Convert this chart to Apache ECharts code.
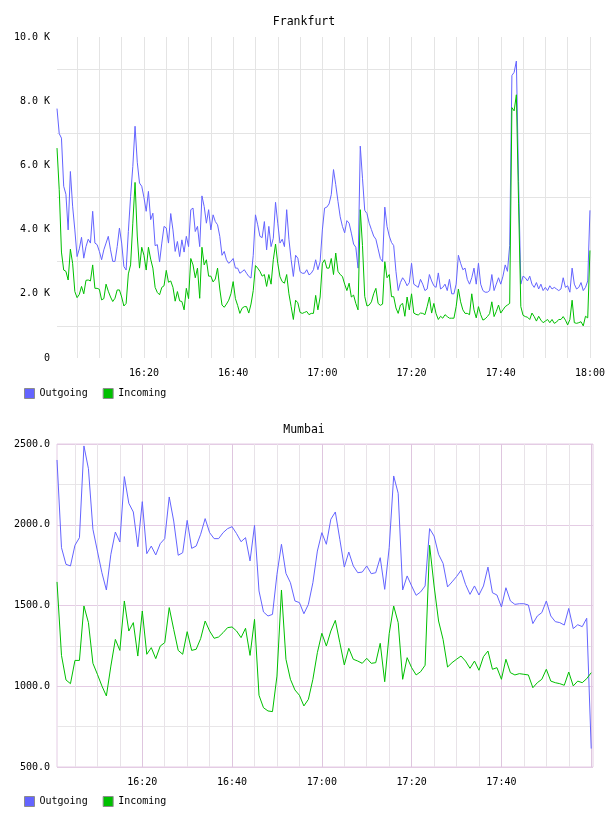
<!DOCTYPE html>
<html>
<head>
<meta charset="utf-8">
<script src="https://cdn.jsdelivr.net/npm/echarts@6/dist/echarts.min.js"></script>
<style>
  html, body { margin: 0; padding: 0; background: #fff; }
  #chart { width: 608px; height: 816px; }
</style>
</head>
<body>
<div id="chart"></div>
<script>
// Frankfurt: one sample every 30 s, first one at 16:00:30 (x in minutes after 16:00)
var frankfurtStart = 0.5, frankfurtStep = 0.5;
var frankfurtOut = [
  7770,6990,6850,5350,5100,3990,5810,4730,3990,3160,
  3400,3760,3110,3470,3700,3580,4570,3580,3530,3320,
  3060,3370,3580,3790,3370,3010,3010,3470,4050,3580,
  2850,2740,3940,5030,5970,7220,6100,5450,5350,5000,
  4570,5190,4310,4510,3500,3530,2990,3580,4100,4050,
  3580,4500,3990,3320,3630,3160,3680,3300,3790,3470,
  4620,4670,3940,4100,3470,5050,4720,4200,4620,3990,
  4460,4250,4150,3790,3200,3320,3060,2950,3010,3100,
  2800,2800,2640,2690,2750,2640,2540,2490,3200,4460,
  4150,3790,3750,4250,3370,4100,3470,3730,4850,4200,
  3580,3700,3470,4620,3700,3060,2540,3200,3110,2690,
  2640,2640,2750,2590,2640,2750,3060,2750,3000,3990,
  4670,4700,4800,5090,5870,5400,4880,4400,4100,3900,
  4280,4200,3890,3550,3450,2800,6600,5600,4600,4500,
  4200,4000,3800,3700,3400,3100,3000,4700,4100,3800,
  3600,3500,2700,2100,2350,2500,2400,2250,2350,2950,
  2300,2250,2200,2450,2300,2100,2150,2600,2400,2250,
  2200,2650,2150,2200,2300,2100,2450,2000,2000,2300,
  3200,2950,2750,2800,2450,2300,2500,2800,2300,2950,
  2300,2100,2050,2050,2100,2600,2100,2300,2500,2300,
  2550,2900,2700,3500,8800,8900,9250,5500,2300,2550,
  2500,2400,2550,2300,2200,2350,2150,2300,2100,2200,
  2100,2250,2150,2200,2150,2100,2150,2500,2200,2250,
  2050,2800,2300,2150,2200,2350,2100,2200,2400,4600
];
var frankfurtIn = [
  6540,5240,3300,2740,2700,2430,3390,2950,2070,1880,
  1980,2230,2000,2420,2430,2400,2900,2170,2170,2140,
  1810,1850,2300,2080,1900,1760,1860,2120,2120,1900,
  1620,1700,2620,2900,4200,5470,3800,2800,3450,3200,
  2740,3450,3080,2800,2200,2040,1970,2200,2250,2730,
  2360,2400,2200,1770,2070,1780,1760,1500,2170,1850,
  3100,2900,2500,2800,1860,3450,2900,3060,2550,2550,
  2370,2460,2800,2150,1650,1580,1680,1800,2000,2380,
  1850,1640,1390,1550,1600,1600,1400,1680,2100,2880,
  2800,2700,2550,2600,2230,2600,2300,3060,3550,2950,
  2530,2380,2330,2600,2000,1600,1200,1800,1720,1420,
  1390,1420,1450,1350,1390,1390,1950,1500,1900,2950,
  3060,2800,2800,3100,2600,3270,2700,2600,2540,2300,
  2100,2330,1900,1960,1700,1500,4620,3500,1920,1620,
  1650,1750,2000,2170,1700,1640,1680,3000,2500,2600,
  1910,1910,1560,1390,1650,1700,1300,1900,1500,2000,
  1400,1360,1340,1400,1390,1350,1600,1900,1400,1700,
  1380,1200,1300,1240,1350,1290,1240,1240,1240,1600,
  2150,1750,1500,1390,1390,1350,2000,1500,1250,1600,
  1350,1180,1220,1290,1380,1750,1290,1450,1650,1400,
  1500,1600,1650,1700,7800,7700,8200,4800,1600,1330,
  1290,1270,1200,1400,1290,1150,1300,1180,1100,1150,
  1200,1100,1200,1080,1120,1200,1200,1290,1180,1030,
  1200,1800,1100,1080,1100,1130,1000,1300,1250,3350
];

// Mumbai: one sample per minute, first one at 16:01
var mumbaiStart = 1, mumbaiStep = 1;
var mumbaiOut = [
  2401,1858,1755,1745,1873,1920,2488,2347,1972,1837,
  1703,1596,1817,1955,1893,2298,2133,2079,1864,2143,
  1821,1868,1813,1883,1914,2172,2023,1811,1827,2027,
  1854,1868,1941,2038,1951,1914,1914,1951,1976,1988,
  1945,1895,1920,1776,1996,1590,1460,1435,1445,1693,
  1879,1699,1641,1528,1518,1449,1507,1641,1837,1951,
  1879,2034,2079,1910,1738,1831,1745,1703,1707,1745,
  1697,1703,1796,1600,1858,2302,2195,1596,1683,1621,
  1563,1584,1621,1976,1930,1817,1761,1615,1646,1679,
  1718,1631,1569,1621,1565,1621,1738,1579,1565,1491,
  1610,1528,1507,1511,1511,1503,1388,1435,1456,1528,
  1435,1400,1394,1379,1482,1357,1381,1369,1421,614
];
var mumbaiIn = [
  1646,1191,1039,1016,1160,1160,1497,1394,1142,1074,
  1002,940,1125,1290,1222,1528,1342,1394,1187,1466,
  1198,1239,1171,1249,1270,1487,1352,1222,1198,1338,
  1222,1229,1295,1404,1342,1297,1305,1332,1363,1367,
  1342,1301,1359,1191,1414,944,867,847,843,1063,
  1596,1167,1043,977,944,878,919,1043,1208,1328,
  1249,1342,1408,1270,1132,1235,1167,1156,1142,1173,
  1142,1146,1266,1028,1326,1497,1394,1043,1177,1115,
  1070,1090,1130,1873,1621,1404,1290,1119,1146,1167,
  1187,1156,1111,1156,1099,1183,1218,1105,1115,1043,
  1167,1084,1070,1078,1074,1070,991,1022,1043,1105,
  1032,1022,1016,1006,1088,1002,1032,1022,1047,1084
];

var seriesNames = ['Outgoing', 'Incoming'];
var seriesColors = ['#6464ff', '#00c000'];

var FONT = 'DejaVu Sans Mono';

function pairs(vals, start, step) {
  return vals.map(function (v, i) { return [start + i * step, v]; });
}
function clock(m) {
  var h = 16 + Math.floor(m / 60);
  var mm = Math.round(m % 60);
  return h + ':' + (mm < 10 ? '0' : '') + mm;
}
// label every 20 minutes; lastLabel is the last one that is drawn
function timeLabeler(lastLabel) {
  return function (v) {
    return Math.abs(v % 20) < 1e-6 && v <= lastLabel ? clock(v) : '';
  };
}

// vertical grid: ticks every step, a line every 5 minutes
var topVColors = [];
for (var i = 0; i < 10; i++) topVColors.push(i === 9 ? '#e4e4e4' : 'rgba(0,0,0,0)');
var botVColors = [];
for (var j = 0; j < 20; j++) {
  botVColors.push(j === 19 ? '#dfc6df' : (j % 5 === 4 ? '#e8e3e8' : 'rgba(0,0,0,0)'));
}

var labelStyle = { fontFamily: FONT, fontSize: 10, color: '#000' };

var chart = echarts.init(document.getElementById('chart'), null, { renderer: 'canvas' });

var option = {
  animation: false,
  backgroundColor: '#fff',
  title: [{
    text: 'Frankfurt', left: 'center', top: 16, padding: 0,
    textStyle: { fontFamily: FONT, fontSize: 11.5, fontWeight: 'normal', color: '#000' }
  }, {
    text: 'Mumbai', left: 'center', top: 424, padding: 0,
    textStyle: { fontFamily: FONT, fontSize: 11.5, fontWeight: 'normal', color: '#000' }
  }],
  legend: [{
    left: 24, top: 388, padding: 0, itemGap: 15, itemWidth: 10, itemHeight: 10,
    icon: 'rect', data: seriesNames, selectedMode: false,
    itemStyle: { borderColor: '#8c8c8c', borderWidth: 1 },
    textStyle: labelStyle
  }, {
    left: 24, top: 796, padding: 0, itemGap: 15, itemWidth: 10, itemHeight: 10,
    icon: 'rect', data: seriesNames, selectedMode: false,
    itemStyle: { borderColor: '#8c8c8c', borderWidth: 1 },
    textStyle: labelStyle
  }],
  grid: [
    { left: 57, right: 15, top: 37, height: 321 },
    { left: 57, right: 15, top: 444, height: 323, show: true, borderColor: '#e4cce4', borderWidth: 1 }
  ],
  xAxis: [{
    gridIndex: 0, type: 'value', min: 0.5, max: 120.3, interval: 0.5,
    axisLine: { show: false }, axisTick: { show: false },
    axisLabel: { formatter: timeLabeler(120), margin: 10, fontFamily: FONT, fontSize: 10, color: '#000' },
    splitLine: { show: true, lineStyle: { color: topVColors, width: 1 } }
  }, {
    gridIndex: 1, type: 'value', min: 1, max: 120.4, interval: 1,
    axisLine: { show: false }, axisTick: { show: false },
    axisLabel: { formatter: timeLabeler(100), margin: 10, fontFamily: FONT, fontSize: 10, color: '#000' },
    splitLine: { show: true, lineStyle: { color: botVColors, width: 1 } }
  }],
  yAxis: [{
    gridIndex: 0, type: 'value', min: 0, max: 10000, interval: 1000,
    axisLine: { show: false }, axisTick: { show: false },
    axisLabel: {
      margin: 7, fontFamily: FONT, fontSize: 10, color: '#000',
      formatter: function (v) {
        if (v === 0) return '0';
        return v % 2000 === 0 ? (v / 1000).toFixed(1) + ' K' : '';
      }
    },
    splitLine: { show: true, lineStyle: { color: ['rgba(0,0,0,0)', '#e4e4e4'], width: 1 } }
  }, {
    gridIndex: 1, type: 'value', min: 500, max: 2500, interval: 250,
    axisLine: { show: false }, axisTick: { show: false },
    axisLabel: {
      margin: 7, fontFamily: FONT, fontSize: 10, color: '#000',
      formatter: function (v) { return v % 500 === 0 ? v.toFixed(1) : ''; }
    },
    splitLine: { show: true, lineStyle: { color: ['#e4cce4', '#e8e6e8'], width: 1 } }
  }],
  series: [{
    name: seriesNames[0], type: 'line', xAxisIndex: 0, yAxisIndex: 0,
    data: pairs(frankfurtOut, frankfurtStart, frankfurtStep),
    symbol: 'none', color: seriesColors[0], lineStyle: { width: 1, color: seriesColors[0] }
  }, {
    name: seriesNames[1], type: 'line', xAxisIndex: 0, yAxisIndex: 0,
    data: pairs(frankfurtIn, frankfurtStart, frankfurtStep),
    symbol: 'none', color: seriesColors[1], lineStyle: { width: 1, color: seriesColors[1] }
  }, {
    name: seriesNames[0], type: 'line', xAxisIndex: 1, yAxisIndex: 1,
    data: pairs(mumbaiOut, mumbaiStart, mumbaiStep),
    symbol: 'none', color: seriesColors[0], lineStyle: { width: 1, color: seriesColors[0] }
  }, {
    name: seriesNames[1], type: 'line', xAxisIndex: 1, yAxisIndex: 1,
    data: pairs(mumbaiIn, mumbaiStart, mumbaiStep),
    symbol: 'none', color: seriesColors[1], lineStyle: { width: 1, color: seriesColors[1] }
  }]
};

chart.setOption(option);
</script>
</body>
</html>
